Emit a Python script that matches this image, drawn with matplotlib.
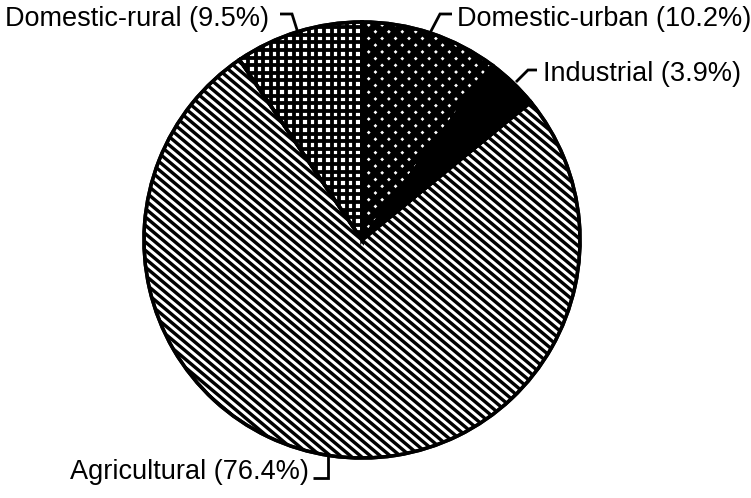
import matplotlib
matplotlib.use("Agg")
import matplotlib.pyplot as plt
import numpy as np
from matplotlib.collections import LineCollection
from matplotlib.patches import Wedge

labels = ["Domestic-urban", "Industrial", "Agricultural", "Domestic-rural"]
shares = [10.2, 3.9, 76.4, 9.5]
faces = ["white", "black", "white", "white"]
# hatch styles: list of (angle_deg, spacing_px, linewidth_px)
hatch_specs = [
    [(45, 9.5, 6.8), (-45, 9.5, 6.8)],
    [],
    [(-40, 6.4, 3.4)],
    [(0, 7.6, 3.8), (90, 7.6, 3.8)],
]

W, H = 751, 498
fig = plt.figure(figsize=(W / 100, H / 100), dpi=100)
ax = fig.add_axes([0, 0, 1, 1])

cx, cy, r = 362, H - 240, 218
wedges, _ = ax.pie(shares, startangle=90, counterclock=False, center=(cx, cy), radius=r,
                   colors=faces, frame=True,
                   wedgeprops=dict(edgecolor='black', linewidth=2.5))
ax.set_xlim(0, W)
ax.set_ylim(0, H)
ax.set_aspect('equal')
ax.axis('off')

PX = 72 / 100.0
for w, specs in zip(wedges, hatch_specs):
    for ang, d, lw in specs:
        a = np.deg2rad(ang)
        u = np.array([np.cos(a), np.sin(a)])
        n = np.array([-np.sin(a), np.cos(a)])
        L = r + 20
        k = np.arange(-int(L / d) - 1, int(L / d) + 2)
        segs = []
        for kk in k:
            p = np.array([cx, cy]) + kk * d * n
            segs.append([p - L * u, p + L * u])
        lc = LineCollection(segs, colors='black', linewidths=lw * PX, zorder=w.get_zorder() + 0.1)
        ax.add_collection(lc)
        lc.set_clip_path(w)
    w2 = Wedge(w.center, w.r, w.theta1, w.theta2, facecolor='none',
               edgecolor='black', linewidth=2.5, zorder=w.get_zorder() + 0.2)
    ax.add_patch(w2)

font = dict(family='Liberation Sans', fontsize=19.5, color='black')

def y(v):
    return H - v

texts = [
    (f"Domestic-rural ({shares[3]}%)", 5, 19, [(280, 14), (292, 14), (298, 33)]),
    (f"Domestic-urban ({shares[0]}%)", 457, 19, [(452, 14), (440, 14), (430, 33)]),
    (f"Industrial ({shares[1]}%)", 543, 74, [(537, 70), (528, 70), (516, 82)]),
    (f"Agricultural ({shares[2]}%)", 70, 472, [(313, 478), (328, 478), (328, 453)]),
]
for t, tx, ty, pts in texts:
    ax.text(tx, y(ty), t, ha='left', va='center', zorder=10, **font)
    ax.plot([p[0] for p in pts], [y(p[1]) for p in pts], color='black', lw=2, zorder=10,
            solid_capstyle='butt', solid_joinstyle='miter')

fig.savefig("out.png", dpi=100)
